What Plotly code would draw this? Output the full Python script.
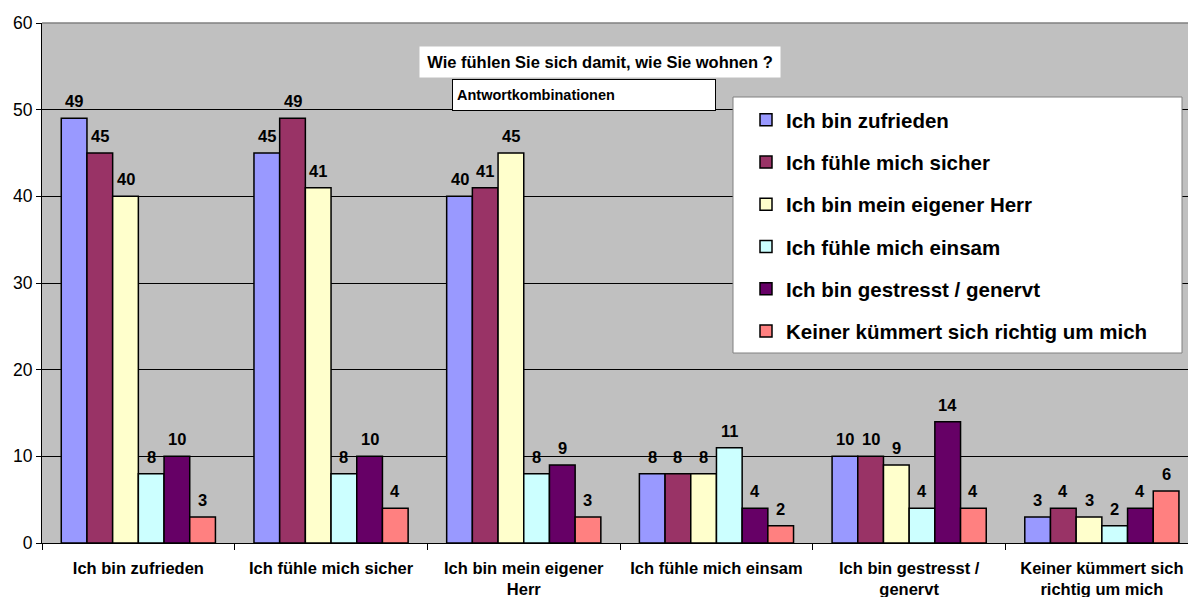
import plotly.graph_objects as go

# Kategorien (x-Achse) und Antwortreihen
categories = [
    "Ich bin zufrieden",
    "Ich fühle mich sicher",
    "Ich bin mein eigener<br>Herr",
    "Ich fühle mich einsam",
    "Ich bin gestresst /<br>genervt",
    "Keiner kümmert sich<br>richtig um mich",
]
series_names = [
    "Ich bin zufrieden",
    "Ich fühle mich sicher",
    "Ich bin mein eigener Herr",
    "Ich fühle mich einsam",
    "Ich bin gestresst / genervt",
    "Keiner kümmert sich richtig um mich",
]
zufrieden = [49, 45, 40, 8, 10, 3]
sicher = [45, 49, 41, 8, 10, 4]
eigener_herr = [40, 41, 45, 8, 9, 3]
einsam = [8, 8, 8, 11, 4, 2]
gestresst = [10, 10, 9, 4, 14, 4]
keiner = [3, 4, 3, 2, 4, 6]
y_ticks = [0, 10, 20, 30, 40, 50, 60]

series_values = [zufrieden, sicher, eigener_herr, einsam, gestresst, keiner]
colors = ["#9999FF", "#993366", "#FFFFCC", "#CCFFFF", "#660066", "#FF8080"]

FONT = "Arial, Liberation Sans, sans-serif"
BARGAP = 0.2

# Plotbereich in Pixeln (fuer Textboxen)
L, T, W, H = 42, 23, 1146, 520
def px(x):
    return (x - L) / W
def py(y):
    return 1 - (y - T) / H

fig = go.Figure()
for i, (name, vals) in enumerate(zip(series_names, series_values)):
    fig.add_trace(go.Bar(
        x=categories, y=vals, name=name, legendgroup=name,
        marker=dict(color=colors[i], line=dict(color="black", width=1.5)),
    ))

# Datenbeschriftungen ueber den Balken
n = len(series_values)
w = (1 - BARGAP) / n
annotations = []
for i, vals in enumerate(series_values):
    for j, v in enumerate(vals):
        annotations.append(dict(
            x=j - (1 - BARGAP) / 2 + (i + 0.5) * w, y=v, xref="x", yref="y",
            text=str(v), showarrow=False, yanchor="bottom", yshift=6,
            font=dict(family=FONT, size=16.5, color="black", weight="bold"),
        ))

annotations.append(dict(
    x=px(600), y=py(62), xref="paper", yref="paper", xanchor="center", yanchor="middle",
    text="Wie fühlen Sie sich damit, wie Sie wohnen ?", showarrow=False,
    width=360, height=30, bgcolor="white", borderpad=0,
    font=dict(family=FONT, size=16.5, color="black", weight="bold"),
))
annotations.append(dict(
    x=px(584), y=py(95), xref="paper", yref="paper", xanchor="center", yanchor="middle",
    text="Antwortkombinationen", showarrow=False, align="left",
    width=254, height=22, bgcolor="white", bordercolor="black", borderwidth=1, borderpad=4,
    font=dict(family=FONT, size=14.5, color="black", weight="bold"),
))

fig.update_layout(
    width=1188, height=597,
    margin=dict(l=L, r=0, t=T, b=597 - T - H),
    paper_bgcolor="white",
    plot_bgcolor="#C0C0C0",
    barmode="group", bargap=BARGAP, bargroupgap=0,
    font=dict(family=FONT, color="black"),
    annotations=annotations,
    legend=dict(
        x=px(746), y=py(100), xanchor="left", yanchor="top",
        bgcolor="rgba(0,0,0,0)", tracegroupgap=12.6,
        font=dict(family=FONT, size=20.5, color="black", weight="bold"),
    ),
    shapes=[
        dict(type="rect", xref="paper", yref="paper", x0=px(733), x1=px(1182), y0=py(353), y1=py(97),
             fillcolor="white", line=dict(color="#808080", width=1), layer="above"),
        dict(type="line", xref="paper", yref="paper", x0=0, x1=1, y0=1, y1=1,
             line=dict(color="#808080", width=1.5), layer="above"),
    ],
    showlegend=True,
)
fig.update_xaxes(
    type="category", range=[-0.5, 5.447], tickson="boundaries",
    ticks="outside", ticklen=6, tickcolor="black", showline=True, linecolor="black", linewidth=1,
    showgrid=False, ticklabelstandoff=10,
    tickfont=dict(family=FONT, size=16.5, color="black", weight="bold"),
)
fig.update_yaxes(
    range=[0, 60], tickvals=y_ticks, ticks="outside", ticklen=5, tickcolor="black",
    showline=True, linecolor="black", linewidth=1, gridcolor="black", gridwidth=1,
    zeroline=False, tickfont=dict(family=FONT, size=17.5, color="black"),
)

# Seitenrand entfernen, damit die Figur genau im Fenster liegt
fig.write_html(
    "out.html",
    config={"displayModeBar": False},
    post_script="document.body.style.margin='0';document.body.style.overflow='hidden';",
)
